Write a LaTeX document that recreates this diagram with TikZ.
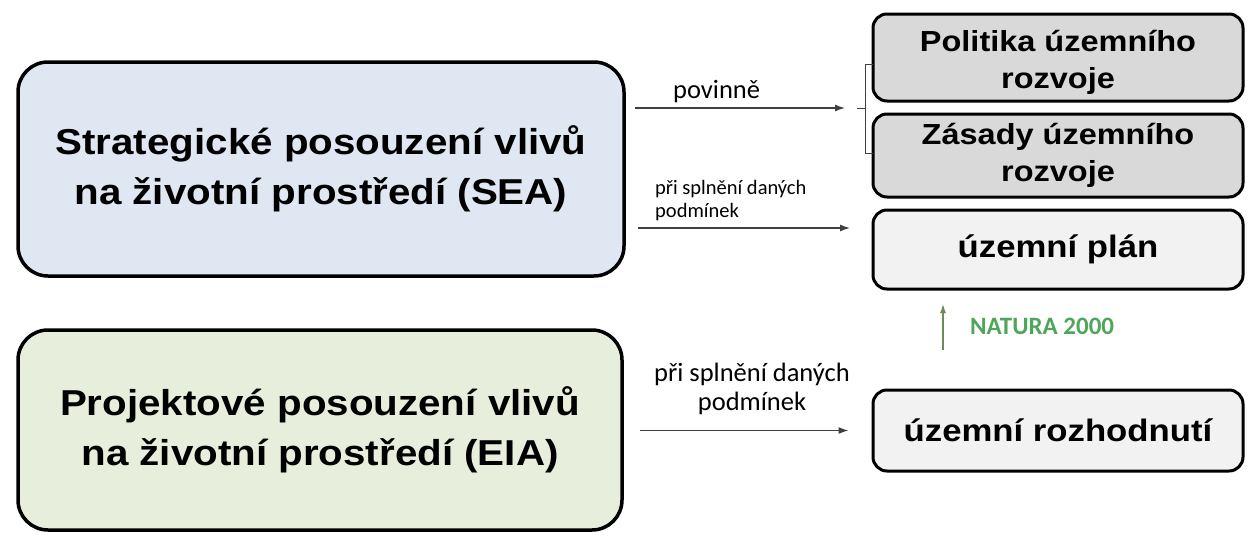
\documentclass[tikz,border=0pt]{standalone}
\usepackage{fontspec}
\setmainfont{Liberation Sans}
\newfontfamily\boxfont[FakeStretch=1.12]{Liberation Sans}
\newfontfamily\calfont{Carlito}
\usetikzlibrary{arrows.meta}
\definecolor{seafill}{HTML}{DEE7F2}
\definecolor{eiafill}{HTML}{E7EFDC}
\definecolor{grayfill}{HTML}{D9D9D9}
\definecolor{lightfill}{HTML}{F2F2F2}
\definecolor{natgreen}{HTML}{4FA65A}
\definecolor{natarrow}{HTML}{6A8C55}
\definecolor{arrowgray}{HTML}{404040}
\begin{document}
\begin{tikzpicture}[x=1pt,y=-1pt,
  bigbox/.style={draw=black,line width=3.5pt,rounded corners=30pt,align=center,
    font=\boxfont\bfseries\fontsize{36}{50}\selectfont,inner sep=0pt},
  smallbox/.style={draw=black,line width=3pt,rounded corners=14pt,align=center,
    minimum width=370pt,inner sep=0pt},
  boxtext/.style={align=center,inner sep=0pt,font=\boxfont\bfseries\fontsize{29}{37}\selectfont},
  conn/.style={draw=arrowgray,line width=1.2pt,-{Latex[length=10pt,width=7pt]}},
  lbl/.style={font=\calfont\fontsize{26.5}{29}\selectfont,text=black,inner sep=0pt},
  slbl/.style={font=\calfont\fontsize{20.5}{23.5}\selectfont,text=black,inner sep=0pt,align=left},
  brk/.style={draw=arrowgray,line width=1pt}]
\useasboundingbox (0,0) rectangle (1260,546);
\node[bigbox,fill=seafill,minimum width=606pt,minimum height=214pt] (SEA) at (321,169)
  {Strategické posouzení vlivů\\na životní prostředí (SEA)};
\node[bigbox,fill=eiafill,minimum width=604pt,minimum height=200pt] (EIA) at (320,430)
  {Projektové posouzení vlivů\\na životní prostředí (EIA)};
\node[smallbox,fill=grayfill,minimum height=87pt] (POL) at (1058,57.5) {};
\node[boxtext] (POLt) at ([yshift=-5pt]POL.center) {Politika územního\\rozvoje};
\node[smallbox,fill=grayfill,minimum height=83pt] (ZAS) at (1058,155.5) {};
\node[boxtext] (ZASt) at (ZAS.center) {Zásady územního\\rozvoje};
\node[smallbox,fill=lightfill,minimum height=79pt,font=\boxfont\bfseries\fontsize{31}{37}\selectfont] (PLAN) at (1058,249.5)
  {územní plán};
\node[smallbox,fill=lightfill,minimum height=81pt,font=\boxfont\bfseries\fontsize{31}{37}\selectfont] (ROZ) at (1058,430.5)
  {územní rozhodnutí};
% bracket
\coordinate (BT) at (873,64);
\coordinate (BB) at (873,153);
\coordinate (BM) at (857,108);
\draw[brk] (BT) -- ++(-8,0) -- ++(0,89) -- (BB);
\draw[brk] (865,108) -- (BM);
% arrows
\draw[conn] ([xshift=9pt]SEA.east |- BM) -- ([xshift=-12pt]BM) coordinate (A1E);
\node[lbl,anchor=base west] (L1) at (673,98) {povinně};
\coordinate (A2S) at (638,228);
\coordinate (A2E) at (850,228);
\draw[conn] (A2S) -- (A2E);
\node[slbl,anchor=base west] (L2) at (655,217.5) {při splnění daných\\podmínek};
\draw[conn] ([xshift=16pt]EIA.east |- ROZ.west) -- ([xshift=-23pt]ROZ.west);
\node[lbl,align=center,anchor=base] (L3) at (752,410) {při splnění daných\\podmínek};
\coordinate (NS) at (943,350);
\coordinate (NE) at (943,304);
\draw[draw=natarrow,line width=1.2pt,-{Latex[length=9pt,width=6pt]}] (NS) -- (NE);
\node[font=\calfont\bfseries\fontsize{25}{28}\selectfont,text=natgreen,anchor=west,inner sep=0pt] (NAT) at (970,326) {NATURA 2000};
\end{tikzpicture}
\end{document}
